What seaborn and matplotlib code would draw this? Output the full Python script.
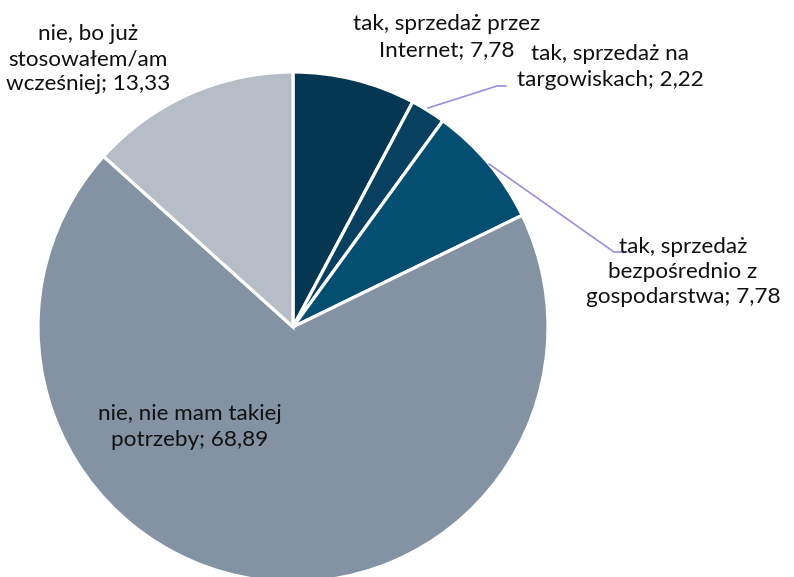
import matplotlib
matplotlib.use("Agg")
import matplotlib.pyplot as plt
import seaborn as sns

sns.set_theme(style="white")
plt.rcParams['font.family'] = ['Lato', 'DejaVu Sans']

categories = ["tak, sprzedaż przez\nInternet", "tak, sprzedaż na\ntargowiskach",
              "tak, sprzedaż\nbezpośrednio z\ngospodarstwa", "nie, nie mam takiej\npotrzeby",
              "nie, bo już\nstosowałem/am\nwcześniej"]
values = [7.78, 2.22, 7.78, 68.89, 13.33]
value_labels = ["7,78", "2,22", "7,78", "68,89", "13,33"]
colors = ["#053652", "#07415f", "#044e72", "#8393a3", "#b7bdc7"]

W, H = 794, 577
fig = plt.figure(figsize=(W / 100, H / 100), dpi=100)
ax = fig.add_axes([0, 0, 1, 1])

cx, cy, r = 293, H - 327, 255
ax.pie(values, colors=colors, startangle=90, counterclock=False,
       center=(cx, cy), radius=r, frame=True,
       wedgeprops=dict(edgecolor="white", linewidth=2.3))
ax.set_xlim(0, W)
ax.set_ylim(0, H)
ax.axis("off")

texts = [f"{c}; {v}" for c, v in zip(categories, value_labels)]
pos = [(447, 37), (610, 67), (683, 272), (190, 427), (88, 59)]
for t, (x, y) in zip(texts, pos):
    ax.text(x, H - y, t, ha="center", va="center", fontsize=16.2,
            color="#111111", linespacing=1.34)

lc = "#9b8fdc"
ax.plot([428, 497, 506], [H - 108, H - 86, H - 86], color=lc, lw=1.2)
ax.plot([489, 614, 627], [H - 164, H - 252, H - 252], color=lc, lw=1.2)

fig.savefig("out.png", dpi=100)
